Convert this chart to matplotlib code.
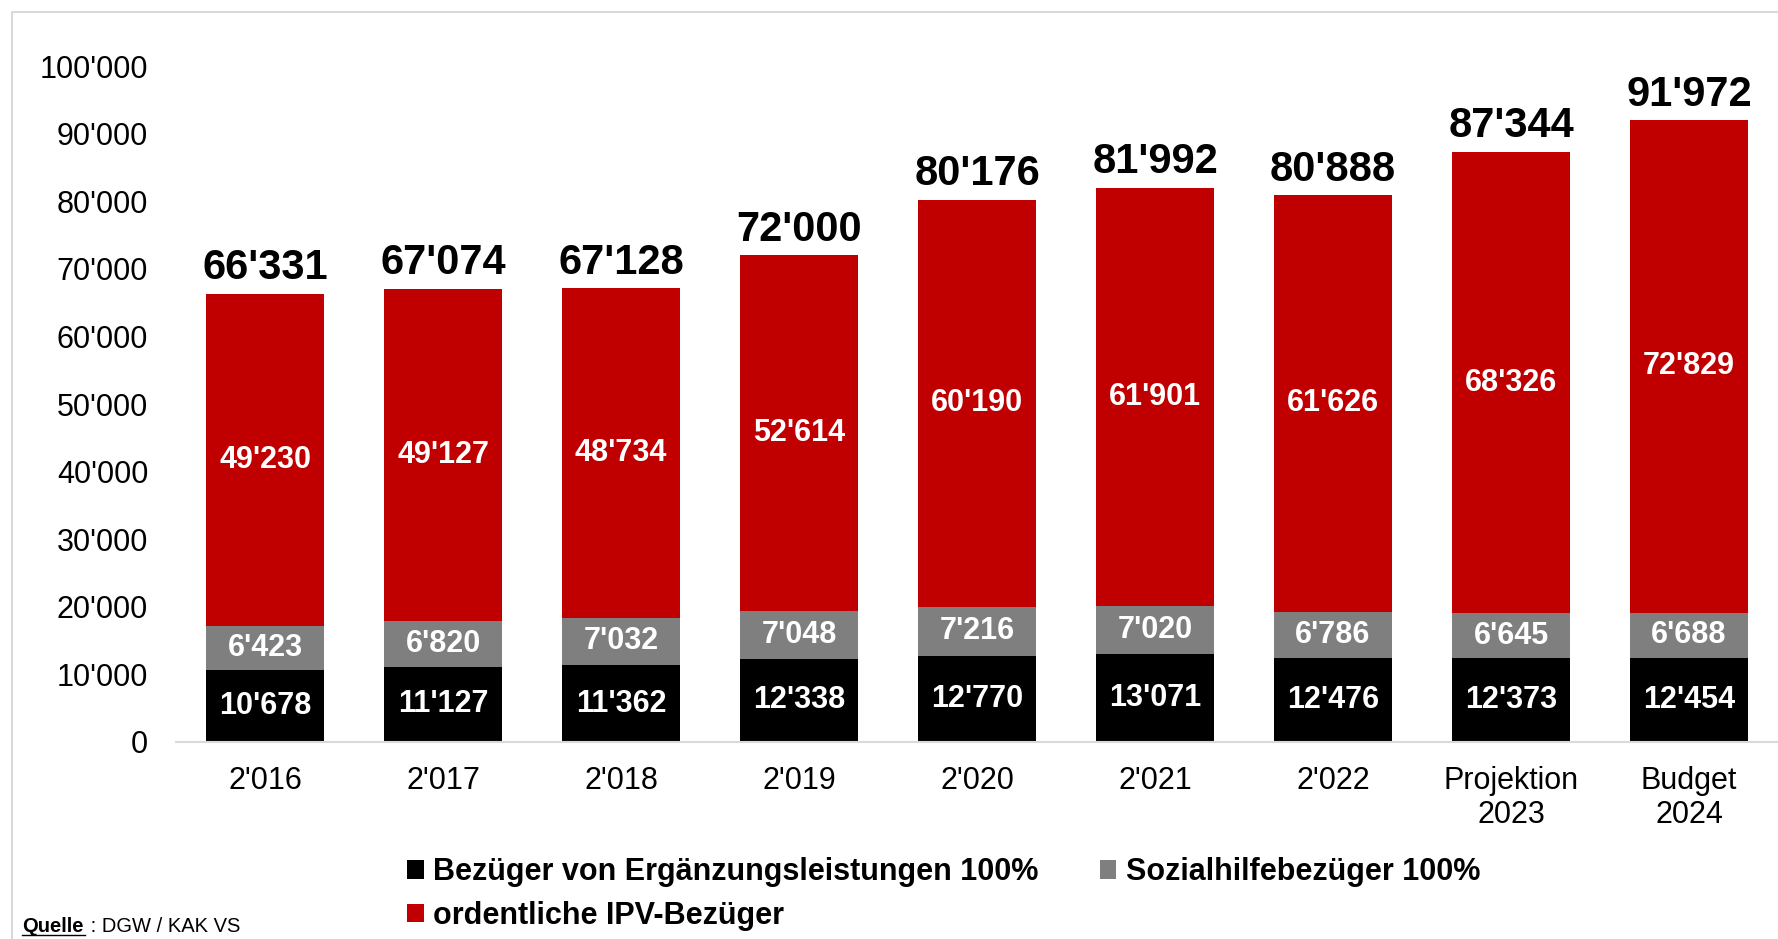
import numpy as np
import matplotlib
matplotlib.use("Agg")
from matplotlib import pyplot as plt
from matplotlib.patches import Rectangle

matplotlib.rcParams['font.family'] = ['Liberation Sans', 'DejaVu Sans']

categories = ["2'016", "2'017", "2'018", "2'019", "2'020", "2'021", "2'022",
              "Projektion\n2023", "Budget\n2024"]
el = [10678, 11127, 11362, 12338, 12770, 13071, 12476, 12373, 12454]
sozial = [6423, 6820, 7032, 7048, 7216, 7020, 6786, 6645, 6688]
ipv = [49230, 49127, 48734, 52614, 60190, 61901, 61626, 68326, 72829]
totals = [66331, 67074, 67128, 72000, 80176, 81992, 80888, 87344, 91972]

labels = ["Bezüger von Ergänzungsleistungen 100%",
          "Sozialhilfebezüger 100%",
          "ordentliche IPV-Bezüger"]
colors = ["#000000", "#7f7f7f", "#c00000"]


def fmt(v):
    return f"{v:,.0f}".replace(",", "'")


fig = plt.figure(figsize=(17.78, 9.39), dpi=100)
ax = fig.add_axes([0.099, 0.2098, 0.901, 0.7199])

x = np.arange(len(categories))
el = np.array(el)
sozial = np.array(sozial)
ipv = np.array(ipv)
w = 0.667

b1 = ax.bar(x, el, w, color=colors[0], label=labels[0])
b2 = ax.bar(x, sozial, w, bottom=el, color=colors[1], label=labels[1])
b3 = ax.bar(x, ipv, w, bottom=el + sozial, color=colors[2], label=labels[2])

for bars, vals in ((b1, el), (b2, sozial), (b3, ipv)):
    for r, v in zip(bars, vals):
        ax.text(r.get_x() + r.get_width() / 2, r.get_y() + r.get_height() / 2,
                fmt(v), ha='center', va='center', color='white',
                fontsize=22, fontweight='bold')

tops = el + sozial + ipv
for xi, top, t in zip(x, tops, totals):
    ax.annotate(fmt(t), (xi, top), xytext=(0, 4), textcoords='offset points',
                ha='center', va='bottom', fontsize=30, fontweight='bold')

ax.set_xlim(-0.5, 8.5)
ax.set_ylim(0, 100000)
ax.set_yticks(np.arange(0, 100001, 10000))
ax.set_yticklabels([fmt(v) for v in np.arange(0, 100001, 10000)])
ax.set_xticks(x)
ax.set_xticklabels(categories)
ax.tick_params(axis='both', length=0, labelsize=22)
ax.tick_params(axis='y', pad=20)
ax.tick_params(axis='x', pad=17)
for s in ('left', 'top', 'right'):
    ax.spines[s].set_visible(False)
ax.spines['bottom'].set_color('#d9d9d9')
ax.spines['bottom'].set_linewidth(1.5)

handles = [b1, b3, b2]
fig.legend(handles, [labels[0], labels[2], labels[1]], ncol=2,
           loc='upper left', bbox_to_anchor=(0.229, 0.087), frameon=False,
           prop={'weight': 'bold', 'size': 22}, handlelength=0.55,
           handleheight=0.55, handletextpad=0.3, columnspacing=2.0,
           labelspacing=0.45, borderpad=0, borderaxespad=0)

qx = 0.0124
fig.text(qx, 0.0075, "Quelle", fontsize=14.5, fontweight='bold',
         ha='left', va='baseline')
fig.text(qx + 0.0355, 0.0075, " : DGW / KAK VS", fontsize=14.5,
         ha='left', va='baseline')
fig.add_artist(plt.Line2D([qx, qx + 0.0355], [0.004, 0.004],
                          color='black', linewidth=1, transform=fig.transFigure))

fig.add_artist(Rectangle((12 / 1778, -0.05), 1.1, 0.05 + 927 / 939,
                         transform=fig.transFigure, fill=False,
                         edgecolor='#d9d9d9', linewidth=1.5))

fig.savefig('out.png', dpi=100)
